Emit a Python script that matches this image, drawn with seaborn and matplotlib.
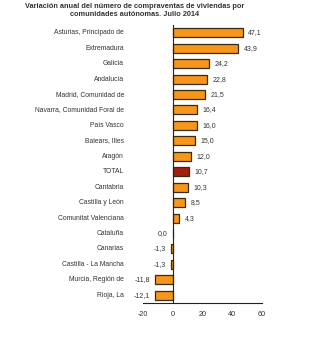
import matplotlib
matplotlib.use("Agg")
import matplotlib.pyplot as plt
import matplotlib.transforms as mtransforms
import seaborn as sns
import numpy as np

categories = ["Asturias, Principado de", "Extremadura", "Galicia", "Andalucía",
              "Madrid, Comunidad de", "Navarra, Comunidad Foral de", "País Vasco",
              "Balears, Illes", "Aragón", "TOTAL", "Cantabria", "Castilla y León",
              "Comunitat Valenciana", "Cataluña", "Canarias", "Castilla - La Mancha",
              "Murcia, Región de", "Rioja, La"]
values = [47.1, 43.9, 24.2, 22.8, 21.5, 16.4, 16.0, 15.0, 12.0, 10.7, 10.3, 8.5,
          4.3, 0.0, -1.3, -1.3, -11.8, -12.1]
xticks = [-20, 0, 20, 40, 60]
title = "Variación anual del número de compraventas de viviendas por\ncomunidades autónomas. Julio 2014"

ORANGE = "#F7961C"
DARKRED = "#A3200C"
palette = {c: (DARKRED if c == "TOTAL" else ORANGE) for c in categories}

sns.set_style("white")
plt.rcParams['font.family'] = ['Liberation Sans', 'DejaVu Sans']

fig = plt.figure(figsize=(3.36, 3.41), dpi=100)
ax = fig.add_axes([143/336, 1-303/341, (262-143)/336, (303-25)/341])

sns.barplot(x=values, y=categories, hue=categories, palette=palette, legend=False,
            orient="h", width=0.58, saturation=1, edgecolor="#3a2a10",
            linewidth=0.9, ax=ax)

ax.set_xlim(xticks[0], xticks[-1])
ax.set_ylim(len(categories) - 0.5, -0.5)
ax.set_xticks(xticks)
ax.set_xticklabels([str(t) for t in xticks], fontsize=5.2, color="#333333")
ax.tick_params(axis="x", length=3, width=0.8, color="#222222", pad=2.5, direction="out")

# y-axis: spine at zero with ticks at category boundaries
ax.spines["left"].set_position(("data", 0))
ax.spines["left"].set_color("#222222")
ax.spines["left"].set_linewidth(0.8)
ax.spines["bottom"].set_color("#222222")
ax.spines["bottom"].set_linewidth(0.8)
ax.spines["top"].set_visible(False)
ax.spines["right"].set_visible(False)
ax.set_yticks(np.arange(len(categories) + 1) - 0.5)
ax.set_yticklabels([])
ax.tick_params(axis="y", length=3, width=0.8, color="#222222", direction="out")
ax.set_xlabel("")
ax.set_ylabel("")

trans = mtransforms.blended_transform_factory(ax.transAxes, ax.transData)
for i, (c, v) in enumerate(zip(categories, values)):
    ax.text(-0.16, i, c, transform=trans, ha="right", va="center",
            fontsize=4.9, color="#333333")
    lab = f"{v:.1f}".replace(".", ",")
    if v > 0:
        ax.annotate(lab, (v, i), xytext=(4, 0), textcoords="offset points",
                    ha="left", va="center", fontsize=5.0, color="#333333")
    else:
        ax.annotate(lab, (v, i), xytext=(-3.5, 0), textcoords="offset points",
                    ha="right", va="center", fontsize=5.0, color="#333333")

fig.text(0.40, 1 - 3/341, title, ha="center", va="top", fontsize=5.3,
         fontweight="bold", color="#333333", linespacing=1.1)

fig.savefig("out.png", dpi=100, facecolor="white")
